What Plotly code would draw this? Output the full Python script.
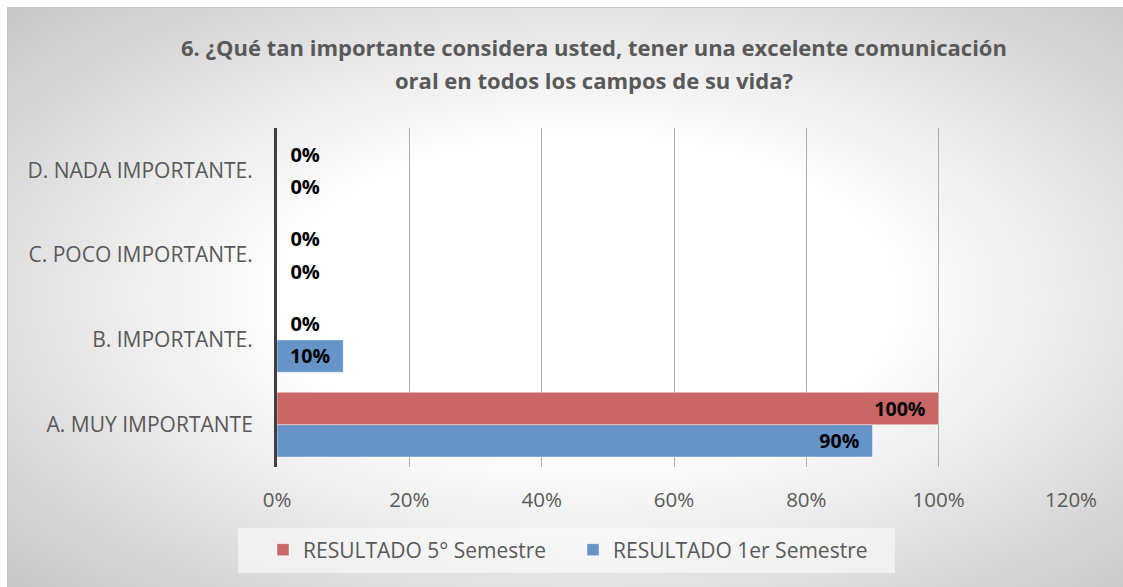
import base64
import plotly.graph_objects as go

categories = ["A. MUY IMPORTANTE", "B. IMPORTANTE.", "C. POCO IMPORTANTE.", "D. NADA IMPORTANTE."]
resultado_5 = [1.00, 0.00, 0.00, 0.00]
resultado_1 = [0.90, 0.10, 0.00, 0.00]
name_5 = "RESULTADO 5° Semestre"
name_1 = "RESULTADO 1er Semestre"
title_line1 = "6. ¿Qué tan importante considera usted, tener una excelente comunicación"
title_line2 = "oral en todos los campos de su vida?"

W, H = 1123, 587
ML, MR, MT, MB = 277, 52, 128, 120
PW, PH = W - ML - MR, H - MT - MB

FONT = "Open Sans, Liberation Sans, sans-serif"
GRAY = "#595959"
NB = "\u00a0"

svg = f'''<svg xmlns="http://www.w3.org/2000/svg" width="{W}" height="{H}" viewBox="0 0 {W} {H}">
<defs><radialGradient id="g" cx="0.52" cy="0.5" r="0.72">
<stop offset="0" stop-color="#ffffff"/><stop offset="0.38" stop-color="#ffffff"/>
<stop offset="1" stop-color="#c6c6c6"/></radialGradient></defs>
<rect x="0" y="0" width="{W}" height="{H}" fill="#ffffff"/>
<rect x="7.5" y="7.5" width="{W-7}" height="{H-7}" fill="url(#g)" stroke="#c8c8c8" stroke-width="1"/>
</svg>'''
bg_src = "data:image/svg+xml;base64," + base64.b64encode(svg.encode()).decode()

def textpos(vals):
    return ["inside" if v > 0 else "outside" for v in vals]

def labels(vals):
    return [f"{v:.0%}" + NB * 2 if v > 0 else NB * 2 + f"{v:.0%}" for v in vals]

label_font = dict(family=FONT, size=20, color="#000000", weight="bold")

fig = go.Figure()
fig.add_trace(go.Bar(
    y=categories, x=resultado_1, name=name_1, orientation="h",
    marker=dict(color="rgb(102,148,201)", line=dict(color="rgba(255,255,255,0.45)", width=1)),
    text=labels(resultado_1), textposition=textpos(resultado_1), insidetextanchor="end",
    textfont=label_font, cliponaxis=False, hoverinfo="x+name",
))
fig.add_trace(go.Bar(
    y=categories, x=resultado_5, name=name_5, orientation="h",
    marker=dict(color="rgb(201,103,102)", line=dict(color="rgba(255,255,255,0.45)", width=1)),
    text=labels(resultado_5), textposition=textpos(resultado_5), insidetextanchor="end",
    textfont=label_font, cliponaxis=False, hoverinfo="x+name",
))

fig.update_layout(
    width=W, height=H,
    margin=dict(l=ML, r=MR, t=MT, b=MB),
    paper_bgcolor="#ffffff", plot_bgcolor="rgba(0,0,0,0)",
    barmode="group", bargap=0.235, bargroupgap=0,
    font=dict(family=FONT, size=20, color=GRAY),
    showlegend=True,
    legend=dict(orientation="h", traceorder="reversed",
                x=(573 - ML) / PW, xanchor="center", y=(MT + PH - 550) / PH, yanchor="middle",
                bgcolor="rgba(0,0,0,0)", font=dict(family=FONT, size=21, color=GRAY),
                itemwidth=30, entrywidth=265),
    xaxis=dict(range=[0, 1.2], dtick=0.2, tickformat=".0%", showgrid=True,
               gridcolor="#adadad", gridwidth=1, zeroline=False, showline=False,
               ticks="", ticklabelstandoff=18, tickfont=dict(color=GRAY, size=20.5)),
    yaxis=dict(categoryorder="array", categoryarray=categories, showgrid=False,
               showline=True, linecolor="#404040", linewidth=3, ticks="",
               ticklabelstandoff=17, tickfont=dict(color=GRAY, size=21)),
    images=[dict(source=bg_src, xref="paper", yref="paper",
                 x=-ML / PW, y=1 + MT / PH, sizex=W / PW, sizey=H / PH,
                 xanchor="left", yanchor="top", sizing="stretch", layer="below")],
    shapes=[dict(type="rect", xref="paper", yref="paper",
                 x0=(238 - ML) / PW, x1=(895 - ML) / PW,
                 y0=(MT + PH - 573) / PH, y1=(MT + PH - 528) / PH,
                 fillcolor="rgba(255,255,255,0.55)", line=dict(width=0), layer="below")],
    annotations=[
        dict(text=f"<b>{title_line1}</b>", xref="paper", yref="paper",
             x=(594 - ML) / PW, y=(MT + PH - 47) / PH, xanchor="center", yanchor="middle",
             showarrow=False, font=dict(family=FONT, size=22, color=GRAY)),
        dict(text=f"<b>{title_line2}</b>", xref="paper", yref="paper",
             x=(594 - ML) / PW, y=(MT + PH - 80) / PH, xanchor="center", yanchor="middle",
             showarrow=False, font=dict(family=FONT, size=22, color=GRAY)),
    ],
)

fig.write_html("out.html", config={"displayModeBar": False},
               post_script="document.body.style.margin='0px';")
